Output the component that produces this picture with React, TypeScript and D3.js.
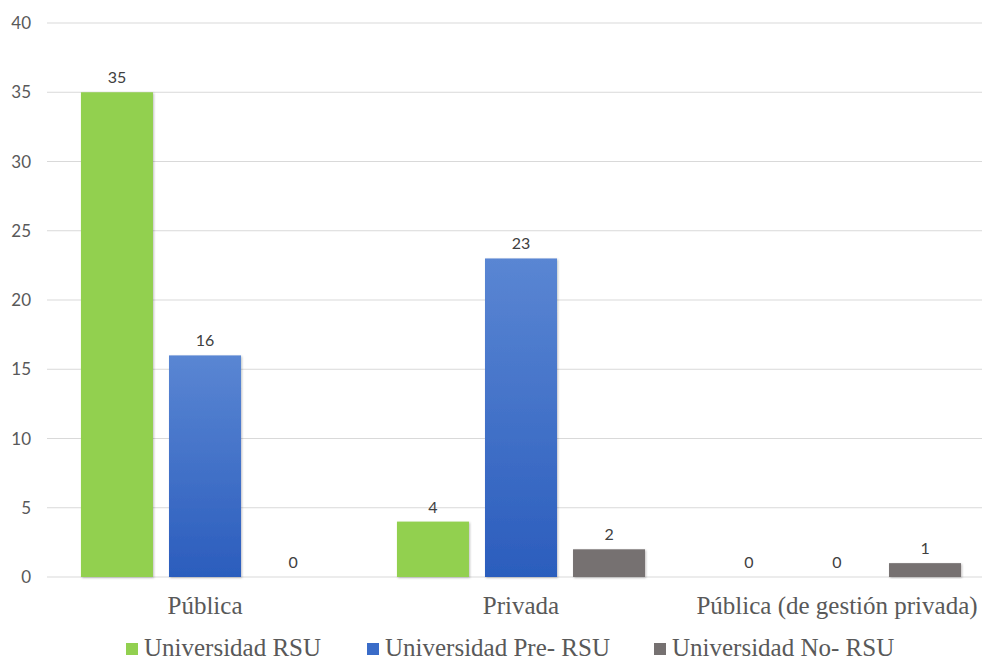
import React from "react";
import * as d3 from "d3";

const categories = ["Pública", "Privada", "Pública (de gestión privada)"];
const seriesNames = ["Universidad RSU", "Universidad Pre- RSU", "Universidad No- RSU"];
const rsuValues = [35, 4, 0];
const preRsuValues = [16, 23, 0];
const noRsuValues = [0, 2, 1];
const yTicks = [0, 5, 10, 15, 20, 25, 30, 35, 40];

const W = 982;
const H = 660;
const serif = "'Liberation Serif', 'Times New Roman', serif";
const sans = "Lato, sans-serif";

export default function App() {
  const values = [rsuValues, preRsuValues, noRsuValues];
  const fills = ["#92d050", "url(#blueGrad)", "#767171"];
  const legendFills = ["#92d050", "#3a6cc8", "#767171"];

  const x0 = d3.scaleBand<string>().domain(categories).range([47, 995]).paddingInner(0.215).paddingOuter(0.1075);
  const x1 = d3.scaleBand<string>().domain(seriesNames).range([0, x0.bandwidth()]).paddingInner(0.182).paddingOuter(0);
  const y = d3.scaleLinear().domain([0, 40]).range([577, 23]);

  const legendX = [126, 367, 654];

  return (
    <div style={{ position: "fixed", left: 0, top: 0 }}>
      <svg width={W} height={H} style={{ display: "block", background: "#fff" }}>
        <defs>
          <linearGradient id="blueGrad" x1="0" y1="0" x2="0" y2="1">
            <stop offset="0%" stopColor="#5a86d3" />
            <stop offset="100%" stopColor="#2b5dbd" />
          </linearGradient>
          <filter id="shadow" x="-10%" y="-10%" width="120%" height="120%">
            <feDropShadow dx="1" dy="1" stdDeviation="1" floodColor="#000" floodOpacity="0.25" />
          </filter>
        </defs>

        {yTicks.map((t) => (
          <g key={t}>
            <line x1={47} x2={W} y1={y(t)} y2={y(t)} stroke="#d9d9d9" strokeWidth={1.2} />
            <text x={31} y={y(t) + 6} textAnchor="end" fontFamily={sans} fontSize={17} fill="#595959">
              {t}
            </text>
          </g>
        ))}

        {categories.map((c, ci) => (
          <g key={c} transform={`translate(${x0(c)},0)`}>
            {seriesNames.map((s, si) => {
              const v = values[si][ci];
              const bx = x1(s)!;
              const bw = x1.bandwidth();
              return (
                <g key={s}>
                  {v > 0 && (
                    <rect x={bx} y={y(v)} width={bw} height={y(0) - y(v)} fill={fills[si]} filter="url(#shadow)" />
                  )}
                  <text x={bx + bw / 2} y={y(v) - 9} textAnchor="middle" fontFamily={sans} fontSize={16} fill="#404040">
                    {v}
                  </text>
                </g>
              );
            })}
            <text x={x0.bandwidth() / 2} y={614} textAnchor="middle" fontFamily={serif} fontSize={25} fill="#595959">
              {c}
            </text>
          </g>
        ))}

        {seriesNames.map((s, i) => (
          <g key={s}>
            <rect x={legendX[i]} y={643} width={12} height={12} fill={legendFills[i]} />
            <text x={legendX[i] + 18} y={656} fontFamily={serif} fontSize={25} fill="#595959">
              {s}
            </text>
          </g>
        ))}
      </svg>
    </div>
  );
}
